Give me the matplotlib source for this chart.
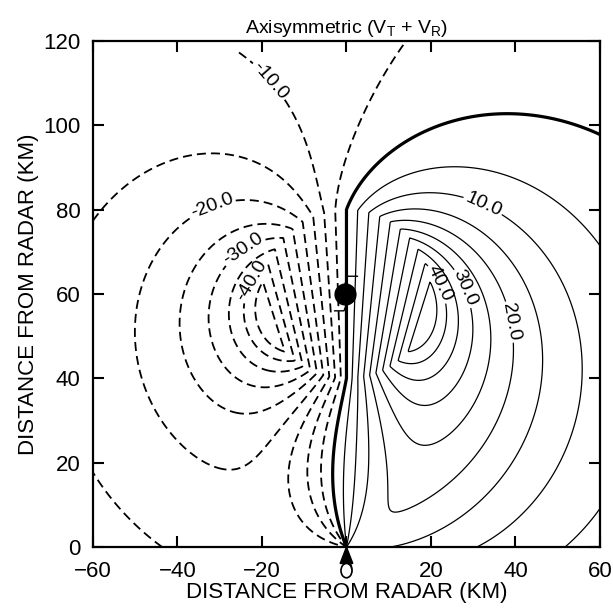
import numpy as np
import matplotlib
matplotlib.use("Agg")
import matplotlib.pyplot as plt
from matplotlib.patches import Ellipse

# vortex parameters (axisymmetric tangential + radial wind)
centro_x = 0.0
centro_y = 60.0
rmw = 20.0
vt_max = 50.0
vr_max = 7.0
vr_escala = 10.0
alcance_max = 120.0

niveis = [-45, -40, -35, -30, -25, -20, -15, -10, -5, 0,
          5, 10, 15, 20, 25, 30, 35, 40, 45]
niveis_rotulo = [-40, -30, -20, -10, 10, 20, 30, 40]
posicoes_rotulo = [(-23.4, 63.8), (-24.6, 70.9), (-31.7, 80.6), (-20.6, 108.4),
                   (31.5, 79.2), (37.4, 53.1), (27, 61), (21, 62)]

plt.rcParams["font.family"] = ["Liberation Sans", "DejaVu Sans"]
plt.rcParams["mathtext.default"] = "regular"
plt.rcParams["lines.dashed_pattern"] = [5.0, 2.8]

x = np.linspace(-60, 60, 481)
y = np.linspace(0.01, 120, 481)
X, Y = np.meshgrid(x, y)

px = X - centro_x
py = Y - centro_y
r = np.hypot(px, py) + 1e-6
vt = np.where(r < rmw, vt_max * r / rmw, vt_max * rmw / r)
vr = np.where(r < rmw, 0.0, -vr_max * (1 - np.exp(-(r - rmw) / vr_escala)))
# componentes u, v
u = vt * (-py / r) + vr * (px / r)
v = vt * (px / r) + vr * (py / r)
dist = np.hypot(X, Y)
vd = (u * X + v * Y) / dist
vd = np.ma.masked_where(dist > alcance_max, vd)

fig = plt.figure(figsize=(6.13, 6.09), dpi=100)
ax = fig.add_axes([0.1517, 0.1018, 0.827, 0.831])


def estilo(lista):
    larg = [2.3 if n == 0 else (1.3 if n < 0 else 0.9) for n in lista]
    est = ["dashed" if n < 0 else "solid" for n in lista]
    return larg, est


sem_rotulo = [n for n in niveis if n not in niveis_rotulo]
larg, est = estilo(sem_rotulo)
ax.contour(X, Y, vd, levels=sem_rotulo, colors="k", linewidths=larg, linestyles=est)
larg, est = estilo(niveis_rotulo)
cs = ax.contour(X, Y, vd, levels=niveis_rotulo, colors="k", linewidths=larg, linestyles=est)
ax.clabel(cs, fmt="%.1f", fontsize=14, inline=True,
          inline_spacing=2, manual=posicoes_rotulo)

# simbolo do ciclone
ax.plot(centro_x - 0.3, centro_y, "o", color="k", markersize=15, zorder=5)
ax.plot([-0.3, 0.2, 2.6], [62.5, 64.2, 64.2], color="k", lw=1, zorder=5)
ax.plot([0.0, -0.6, -2.8], [57.5, 56.0, 56.0], color="k", lw=1, zorder=5)
# simbolo do radar
ax.fill([0, -1.5, 1.5], [0, -3.9, -3.9], color="k", clip_on=False, zorder=6)
ax.add_patch(Ellipse((0, -5.6), 2.6, 3.4, fc="white", ec="k", lw=1.2,
                     clip_on=False, zorder=6))

ax.set_xlim(-60, 60)
ax.set_ylim(0, 120)
ax.set_xticks(np.arange(-60, 61, 20))
ax.set_yticks(np.arange(0, 121, 20))
ax.tick_params(direction="in", length=8, width=1.5, labelsize=16,
               top=True, right=True)
ax.tick_params(axis="x", pad=10)
ax.tick_params(axis="y", pad=9)
for s in ax.spines.values():
    s.set_linewidth(1.6)
ax.set_xlabel("DISTANCE FROM RADAR (KM)", fontsize=16, labelpad=0)
ax.set_ylabel("DISTANCE FROM RADAR (KM)", fontsize=16, labelpad=3)
ax.set_title("Axisymmetric (V$_T$ + V$_R$)", fontsize=14, pad=6)

fig.savefig("out.png", dpi=100)
